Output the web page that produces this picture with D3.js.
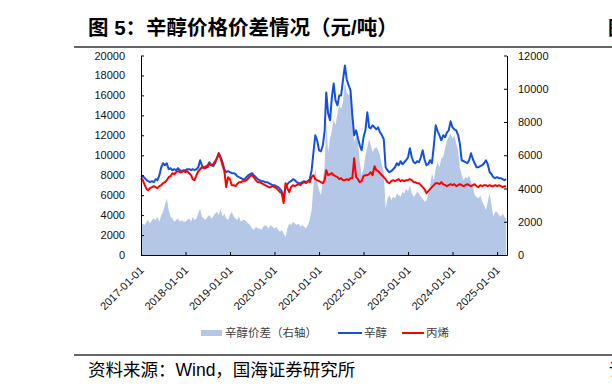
<!DOCTYPE html>
<html>
<head>
<meta charset="utf-8">
<script src="https://cdn.jsdelivr.net/npm/d3@7"></script>
<style>
  body { margin: 0; background: #fff; }
  svg { display: block; font-family: "Liberation Sans", Arial, "Noto Sans CJK SC", sans-serif; }
</style>
</head>
<body>
<div id="chart"></div>
<script>
'use strict';
// semi-monthly readings (1st and 16th of each month), 2017-01 .. 2025-03
var startMonth = '2017-01-01';

// 辛醇 (left axis, 元/吨)
var octanol = [
  // 2017
  7800, 7900, 7700, 7500, 7400, 7300, 7400, 7300, 7600, 7500, 8000, 8800,
  9200, 9000, 9200, 8600, 8700, 8500, 8600, 8500, 8700, 8500, 8400, 8500,
  // 2018
  8500, 8600, 8600, 8500, 8600, 8500, 8600, 8800, 9500, 9000, 8700, 8700,
  9000, 9300, 9000, 8900, 9200, 9700, 10200, 9800, 9300, 8600, 8300, 8400,
  // 2019
  8300, 8200, 8200, 8100, 7900, 7800, 7700, 7600, 7600, 7800, 8000, 8100,
  8200, 8000, 7800, 7600, 7500, 7400, 7400, 7300, 7300, 7200, 7100, 7000,
  // 2020
  7000, 6900, 6800, 6600, 6400, 5600, 6800, 7100, 7300, 7400, 7600, 7500,
  7300, 7200, 7200, 7300, 7400, 7300, 7400, 7600, 8500, 10300, 12000, 11500,
  // 2021
  10500, 10400, 11000, 12500, 16300, 14200, 13500, 15800, 17200, 15500, 15000, 16000,
  16000, 17500, 19000, 17600, 17000, 16500, 14000, 12000, 12500, 11700, 11000, 10500,
  // 2022
  11800, 12500, 14300, 12800, 12700, 13000, 12800, 12600, 12800, 12300, 12000, 11600,
  8800, 8500, 8300, 8400, 8600, 8800, 9200, 9000, 9400, 9100, 9300, 9500,
  // 2023
  9800, 10700, 9800, 9300, 9200, 9400, 9300, 9800, 10500, 9600, 9000, 9100,
  9500, 9200, 11000, 13000, 12400, 12000, 11500, 12000, 11800, 12300, 12500, 13400,
  // 2024
  12800, 12600, 12500, 12000, 11200, 9500, 9400, 9300, 9200, 9500, 10200, 9600,
  9200, 8800, 8800, 8900, 9000, 9200, 9500, 9100, 8300, 8100, 7800, 7700,
  // 2025
  7800, 7700, 7700, 7600, 7500, 7600
];

// 丙烯 (left axis, 元/吨)
var propylene = [
  // 2017
  7700, 7500, 7000, 6600, 6500, 6700, 6800, 6900, 6800, 6700, 6900, 7000,
  7200, 7300, 7500, 7800, 7900, 8200, 8100, 8300, 8400, 8300, 8300, 8400,
  // 2018
  8300, 8400, 8200, 8000, 7600, 7500, 8000, 8400, 8600, 8800, 8700, 8900,
  8800, 9200, 9000, 9100, 9400, 9700, 10200, 9700, 9000, 8400, 6800, 7800,
  // 2019
  7600, 7000, 7000, 6900, 7100, 7300, 7300, 7400, 7400, 7500, 7700, 7900,
  8000, 7800, 7500, 7300, 7300, 7200, 7100, 7000, 6900, 6800, 6800, 6900,
  // 2020
  6800, 6700, 6500, 6300, 6200, 5200, 7200, 6700, 6300, 6800, 7000, 6900,
  7000, 7100, 7000, 7200, 7300, 7200, 7400, 7300, 7800, 8000, 7600, 7500,
  // 2021
  7400, 7300, 7200, 7500, 8500, 8000, 8100, 8200, 8000, 7900, 7800, 7600,
  7700, 7500, 7500, 7600, 7500, 7700, 7700, 9700, 7800, 7600, 7300, 7400,
  // 2022
  7900, 8000, 8000, 8100, 8300, 8000, 8900, 8500, 8400, 8200, 8000, 7800,
  7600, 7300, 7200, 7400, 7500, 7400, 7500, 7600, 7400, 7500, 7400, 7500,
  // 2023
  7500, 7600, 7500, 7300, 7300, 7200, 7200, 7000, 6800, 6600, 6200, 6400,
  6600, 6800, 7000, 7200, 7200, 7100, 7300, 7100, 7000, 6900, 7000, 7100,
  // 2024
  7000, 7100, 6900, 7000, 7100, 7000, 6900, 7000, 7100, 7000, 6900, 7000,
  7100, 6900, 6800, 7000, 6900, 7000, 7000, 6900, 7000, 6900, 6900, 7000,
  // 2025
  6900, 7000, 6900, 6800, 6900, 6900
];

// 辛醇价差 (right axis, 元/吨)
var spread = [
  // 2017
  1700, 1900, 1800, 2000, 2100, 1900, 2100, 2200, 2100, 2300, 2000, 2400,
  2600, 3000, 3400, 2700, 2300, 2200, 2000, 2100, 2200, 2000, 2100, 2000,
  // 2018
  2000, 2100, 2200, 2000, 2300, 2100, 2200, 2500, 2800, 2300, 2200, 2100,
  2300, 2400, 2200, 2300, 2500, 2600, 2400, 2800, 2300, 2500, 2200, 2100,
  // 2019
  2400, 2600, 2300, 2200, 2100, 2300, 2000, 2100, 2100, 2000, 1900, 1800,
  1600, 1500, 1700, 1600, 1600, 1500, 1700, 1800, 1700, 1600, 1800, 1700,
  // 2020
  1600, 1700, 1500, 1400, 1500, 1300, 1100, 1600, 1900, 1800, 2000, 1900,
  1800, 1900, 1700, 1800, 1700, 1600, 1800, 2100, 2700, 4200, 5200, 4400,
  // 2021
  3900, 3600, 4500, 5400, 8000, 6200, 7000, 7500, 8200, 7800, 8500, 9000,
  8800, 9200, 10400, 9800, 9600, 9800, 8000, 6800, 7200, 6800, 5600, 4800,
  // 2022
  5200, 6000, 6500, 7000, 6600, 6200, 6400, 6500, 6300, 6000, 5400, 5000,
  2800, 3400, 3600, 3300, 3500, 3400, 3700, 3600, 3500, 3800, 3700, 4000,
  // 2023
  3800, 4200, 3700, 3500, 3600, 3800, 3700, 3500, 3400, 3200, 3300, 3600,
  4200, 4900, 4500, 5200, 5600, 5300, 5800, 5900, 6400, 6900, 7100, 7300,
  // 2024
  7000, 7200, 6700, 6300, 5300, 4800, 4500, 4700, 4600, 4800, 4400, 4100,
  3600, 3500, 3400, 3600, 3200, 3000, 2700, 3200, 3700, 3000, 2300, 2600,
  // 2025
  2600, 2400, 2300, 2500, 2300, 2200
];

var yearTicks = ['2017-01-01', '2018-01-01', '2019-01-01', '2020-01-01', '2021-01-01',
                 '2022-01-01', '2023-01-01', '2024-01-01', '2025-01-01'];
var leftTicks = d3.range(0, 20001, 2000);
var rightTicks = d3.range(0, 12001, 2000);

var W = 612, H = 389;
var plot = {left: 141, right: 507, top: 55.5, bottom: 255};

var parse = d3.timeParse('%Y-%m-%d');

// build the semi-monthly dates
var dates = [];
d3.timeMonth.range(parse(startMonth), parse('2025-04-01')).forEach(function(m) {
  dates.push(m);
  dates.push(d3.timeDay.offset(m, 15));
});
dates = dates.slice(0, octanol.length);

var rows = dates.map(function(d, i) {
  return {date: d, octanol: octanol[i], propylene: propylene[i], spread: spread[i]};
});

var svg = d3.select('#chart').append('svg')
    .attr('width', W)
    .attr('height', H);

var x = d3.scaleTime()
    .domain([parse('2017-01-01'), parse('2025-03-23')])
    .range([plot.left, plot.right]);

var yL = d3.scaleLinear().domain([0, 20000]).range([plot.bottom, plot.top]);
var yR = d3.scaleLinear().domain([0, 12000]).range([plot.bottom, plot.top]);

// spread area (right axis)
svg.append('path')
    .datum(rows)
    .attr('fill', '#b4c7e7')
    .attr('d', d3.area()
      .x(function(d) { return x(d.date); })
      .y0(yR(0))
      .y1(function(d) { return yR(d.spread); }));

// octanol line
svg.append('path')
    .datum(rows)
    .attr('fill', 'none')
    .attr('stroke', '#1450dc')
    .attr('stroke-width', 2)
    .attr('stroke-linejoin', 'round')
    .attr('d', d3.line()
      .x(function(d) { return x(d.date); })
      .y(function(d) { return yL(d.octanol); }));

// propylene line
svg.append('path')
    .datum(rows)
    .attr('fill', 'none')
    .attr('stroke', '#ff0000')
    .attr('stroke-width', 2)
    .attr('stroke-linejoin', 'round')
    .attr('d', d3.line()
      .x(function(d) { return x(d.date); })
      .y(function(d) { return yL(d.propylene); }));

// axes
var gL = svg.append('g')
    .attr('transform', 'translate(' + plot.left + ',0)')
    .call(d3.axisLeft(yL).tickValues(leftTicks).tickFormat(d3.format('d'))
      .tickSizeInner(-3).tickSizeOuter(0).tickPadding(16));

var gR = svg.append('g')
    .attr('transform', 'translate(' + plot.right + ',0)')
    .call(d3.axisRight(yR).tickValues(rightTicks).tickFormat(d3.format('d'))
      .tickSizeInner(-3).tickSizeOuter(0).tickPadding(11));

var gX = svg.append('g')
    .attr('transform', 'translate(0,' + plot.bottom + ')')
    .call(d3.axisBottom(x).tickValues(yearTicks.map(parse)).tickSizeInner(-3).tickSizeOuter(0)
      .tickFormat(d3.timeFormat('%Y-%m-%d')));

gX.selectAll('text')
    .attr('y', 0)
    .attr('dy', 0)
    .attr('text-anchor', 'end')
    .attr('transform', 'translate(3,16) rotate(-45)');

[gL, gR, gX].forEach(function(g) {
  g.selectAll('.domain').attr('stroke', '#000');
  g.selectAll('line').attr('stroke', '#000');
  g.selectAll('text')
    .attr('fill', '#111')
    .style('font-size', '11px')
    .style('font-family', '"Liberation Sans", Arial, sans-serif');
});

// legend
var legend = svg.append('g').style('font-size', '11.5px').attr('fill', '#404040');
legend.append('rect').attr('x', 201).attr('y', 330).attr('width', 21).attr('height', 6).attr('fill', '#b4c7e7');
legend.append('text').attr('x', 225).attr('y', 337).text('辛醇价差（右轴）');
legend.append('line').attr('x1', 338).attr('x2', 362).attr('y1', 333).attr('y2', 333)
    .attr('stroke', '#1450dc').attr('stroke-width', 2);
legend.append('text').attr('x', 364).attr('y', 337).text('辛醇');
legend.append('line').attr('x1', 402).attr('x2', 424).attr('y1', 333).attr('y2', 333)
    .attr('stroke', '#ff0000').attr('stroke-width', 2);
legend.append('text').attr('x', 426).attr('y', 337).text('丙烯');

// title and source
svg.append('text')
    .attr('x', 88).attr('y', 35)
    .style('font-size', '20.5px').style('font-weight', 'bold')
    .style('font-family', '"Liberation Sans", "Noto Sans CJK SC", sans-serif')
    .text('图 5：辛醇价格价差情况（元/吨）');
svg.append('text')
    .attr('x', 608).attr('y', 35)
    .style('font-size', '19px').style('font-weight', 'bold')
    .style('font-family', '"Noto Sans CJK SC", sans-serif')
    .text('图');
svg.append('line').attr('x1', 74).attr('x2', W).attr('y1', 47).attr('y2', 47)
    .attr('stroke', '#333').attr('stroke-width', 1.5);

svg.append('line').attr('x1', 74).attr('x2', W).attr('y1', 355).attr('y2', 355)
    .attr('stroke', '#333').attr('stroke-width', 1.5);
svg.append('text')
    .attr('x', 88).attr('y', 376)
    .style('font-size', '17.5px')
    .style('font-family', '"Liberation Sans", "Noto Sans CJK SC", sans-serif')
    .text('资料来源：Wind，国海证券研究所');
svg.append('text')
    .attr('x', 609).attr('y', 376)
    .style('font-size', '17.5px')
    .style('font-family', '"Noto Sans CJK SC", sans-serif')
    .text('请');
</script>
</body>
</html>
